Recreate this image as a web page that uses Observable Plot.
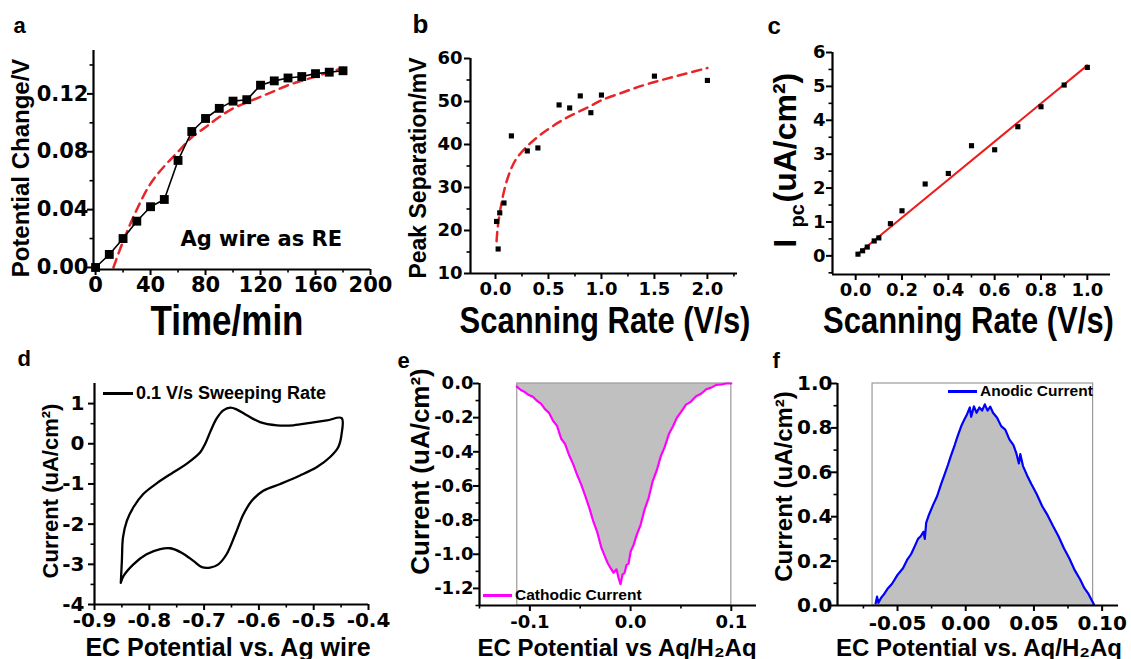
<!DOCTYPE html>
<html><head><meta charset="utf-8">
<script src="https://cdn.jsdelivr.net/npm/d3@7"></script>
<script src="https://cdn.jsdelivr.net/npm/@observablehq/plot@0.6"></script>
<style>
html,body{margin:0;padding:0;background:#fff;}
#fig{position:relative;width:1131px;height:659px;overflow:hidden;background:#fff;}
.legend{position:absolute;display:flex;align-items:center;font-family:"Liberation Sans",Arial,sans-serif;font-weight:bold;white-space:nowrap;color:#000;}
.legend .sw{display:inline-block;}
</style></head><body><div id="fig"></div><script>
// ---------- data ----------
// (a) potential drift of Ag wire
const timeMin = [0,10,20,30,40,50,60,70,80,90,100,110,120,130,140,150,160,170,180];
const potentialChange = [0.000,0.009,0.020,0.032,0.042,0.047,0.074,0.094,0.103,0.110,0.115,0.116,0.126,0.129,0.131,0.132,0.134,0.135,0.136];
const fitTime = [13,20,30,40,50,60,70,80,90,100,110,120,130,140,150,160,170,180];
const fitPotential = [0.000,0.018,0.040,0.058,0.070,0.080,0.090,0.097,0.104,0.110,0.114,0.118,0.122,0.126,0.129,0.132,0.135,0.138];
// (b) peak separation
const scanRateB = [0.01,0.025,0.04,0.08,0.15,0.30,0.40,0.60,0.70,0.80,0.90,1.00,1.50,2.00];
const peakSep = [22.1,15.7,24.1,26.4,42.0,38.5,39.2,49.2,48.5,51.3,47.4,51.5,55.9,54.9];
const fitRateB = [0.01,0.02,0.04,0.07,0.1,0.15,0.2,0.3,0.4,0.5,0.6,0.7,0.8,0.9,1.0,1.2,1.4,1.6,1.8,2.0];
const fitSepB = [17.5,20.5,24,28,31,34.5,36.8,39.6,41.8,43.6,45.2,46.6,47.8,49,50.3,52.1,53.8,55.2,56.5,57.8];
// (c) cathodic peak current
const scanRateC = [0.01,0.03,0.05,0.08,0.10,0.15,0.20,0.30,0.40,0.50,0.60,0.70,0.80,0.90,1.00];
const ipc = [0.05,0.15,0.26,0.44,0.53,0.95,1.33,2.12,2.43,3.25,3.13,3.81,4.40,5.04,5.56];
const fitRateC = [0.01,1.00];
const fitIpc = [0.06,5.62];
// (d) cyclic voltammogram, 0.1 V/s
const cvPotential = [-0.852,-0.850,-0.848,-0.841,-0.829,-0.811,-0.786,-0.756,-0.732,-0.707,-0.698,-0.689,-0.677,-0.665,-0.652,-0.640,-0.622,-0.598,-0.567,-0.537,-0.506,-0.476,-0.449,
  -0.449,-0.455,-0.470,-0.494,-0.525,-0.561,-0.592,-0.613,-0.628,-0.643,-0.659,-0.674,-0.689,-0.704,-0.719,-0.741,-0.762,-0.780,-0.805,-0.829,-0.847,-0.852];
const cvCurrent = [-3.46,-2.90,-2.33,-1.92,-1.58,-1.25,-0.98,-0.71,-0.50,-0.21,0.00,0.29,0.63,0.83,0.90,0.85,0.71,0.54,0.46,0.46,0.52,0.58,0.64,
  0.25,-0.08,-0.33,-0.58,-0.79,-1.00,-1.17,-1.42,-1.75,-2.25,-2.75,-3.00,-3.08,-3.07,-2.92,-2.71,-2.60,-2.62,-2.75,-3.00,-3.29,-3.46];
// (e) cathodic current
const cathPotential = [-0.1130,-0.1090,-0.1050,-0.1010,-0.0970,-0.0930,-0.0890,-0.0850,-0.0810,-0.0770,-0.0730,-0.0690,-0.0650,-0.0610,-0.0570,-0.0530,-0.0490,-0.0450,-0.0410,-0.0370,-0.0330,-0.0290,-0.0260,-0.0230,-0.0200,-0.0170,-0.0140,-0.0120,-0.0100,-0.0080,-0.0060,-0.0040,-0.0020,0.0000,0.0030,0.0060,0.0100,0.0140,0.0180,0.0220,0.0260,0.0300,0.0340,0.0380,0.0420,0.0460,0.0500,0.0550,0.0600,0.0650,0.0700,0.0750,0.0800,0.0850,0.0900,0.0950,0.1000];
const cathCurrent = [-0.018,-0.038,-0.050,-0.068,-0.078,-0.101,-0.118,-0.150,-0.172,-0.218,-0.248,-0.322,-0.355,-0.420,-0.472,-0.536,-0.592,-0.658,-0.728,-0.808,-0.872,-0.962,-1.005,-1.048,-1.080,-1.108,-1.088,-1.138,-1.175,-1.118,-1.110,-1.062,-1.055,-0.985,-0.945,-0.888,-0.826,-0.735,-0.668,-0.570,-0.508,-0.425,-0.370,-0.296,-0.252,-0.200,-0.168,-0.124,-0.106,-0.074,-0.060,-0.034,-0.024,-0.008,-0.006,0.000,0.000];
const cathodicWindow = [-0.1125, 0.1];
// (f) anodic current
const anodPotential = [-0.0660,-0.0650,-0.0640,-0.0620,-0.0600,-0.0570,-0.0540,-0.0500,-0.0460,-0.0430,-0.0400,-0.0370,-0.0350,-0.0330,-0.0310,-0.0300,-0.0290,-0.0270,-0.0240,-0.0210,-0.0180,-0.0160,-0.0130,-0.0110,-0.0080,-0.0060,-0.0030,-0.0010,0.0010,0.0030,0.0040,0.0060,0.0080,0.0100,0.0120,0.0140,0.0160,0.0180,0.0200,0.0230,0.0260,0.0290,0.0320,0.0350,0.0370,0.0390,0.0400,0.0420,0.0450,0.0480,0.0520,0.0560,0.0600,0.0640,0.0680,0.0720,0.0760,0.0800,0.0840,0.0870,0.0900,0.0920,0.0940];
const anodCurrent = [0.010,0.040,0.012,0.035,0.050,0.078,0.098,0.138,0.168,0.205,0.232,0.272,0.300,0.312,0.332,0.300,0.372,0.408,0.452,0.492,0.548,0.582,0.634,0.672,0.724,0.762,0.812,0.838,0.862,0.892,0.850,0.897,0.868,0.892,0.878,0.906,0.878,0.896,0.868,0.846,0.808,0.792,0.748,0.722,0.688,0.640,0.682,0.628,0.586,0.548,0.502,0.448,0.407,0.358,0.312,0.258,0.212,0.158,0.116,0.078,0.052,0.028,0.004];
const anodicWindow = [-0.0683, 0.0934];

// tick values
const aXTicks = [0,40,80,120,160,200], aXMinor = [20,60,100,140,180];
const aYTicks = [0,0.04,0.08,0.12], aYMinor = [0.02,0.06,0.10,0.14];
const bXTicks = [0,0.5,1.0,1.5,2.0], bXMinor = [0.25,0.75,1.25,1.75,2.25];
const bYTicks = [10,20,30,40,50,60], bYMinor = [15,25,35,45,55];
const cXTicks = [0,0.2,0.4,0.6,0.8,1.0], cXMinor = [0.1,0.3,0.5,0.7,0.9];
const cYTicks = [0,1,2,3,4,5,6], cYMinor = [-0.5,0.5,1.5,2.5,3.5,4.5,5.5];
const dXTicks = [-0.9,-0.8,-0.7,-0.6,-0.5,-0.4], dXMinor = [-0.85,-0.75,-0.65,-0.55,-0.45];
const dYTicks = [-4,-3,-2,-1,0,1], dYMinor = [-3.5,-2.5,-1.5,-0.5,0.5];
const eXTicks = [-0.1,0,0.1], eXMinor = [-0.15,-0.05,0.05];
const eYTicks = [-1.2,-1.0,-0.8,-0.6,-0.4,-0.2,0.0], eYMinor = [-1.3,-1.1,-0.9,-0.7,-0.5,-0.3,-0.1];
const fXTicks = [-0.05,0,0.05,0.10], fXMinor = [-0.075,-0.025,0.025,0.075];
const fYTicks = [0,0.2,0.4,0.6,0.8,1.0], fYMinor = [0.1,0.3,0.5,0.7,0.9];

// ---------- helpers ----------
const rows = (xs, ys) => xs.map((x, i) => ({x, y: ys[i]}));
const loc = d3.formatLocale({decimal: ".", thousands: ",", grouping: [3], currency: ["", ""], minus: "-"});
const ARIAL = "'Liberation Sans', Arial, sans-serif";
const fig = document.getElementById("fig");

function txt(s, o) {
  return Plot.text([s], {text: d => d, fontFamily: ARIAL, fontWeight: "bold", fill: "#000", textAnchor: "middle", ...o});
}

function panel(c) {
  const svg = Plot.plot({
    width: c.w, height: c.h,
    marginLeft: c.ml, marginRight: c.mr, marginTop: c.mt, marginBottom: c.mb,
    x: {domain: c.xd, label: null}, y: {domain: c.yd, label: null},
    style: {fontFamily: "'DejaVu Sans', sans-serif", fontWeight: "bold", fontSize: c.fs + "px", color: "#000", background: "none", overflow: "visible"},
    marks: [
      ...c.marks,
      Plot.axisX(c.xMinor, {tickSize: 3.5, strokeWidth: 1.6, tickFormat: () => "", label: null}),
      Plot.axisX(c.xTicks, {tickSize: 6, strokeWidth: 2, tickPadding: c.gx - 6, tickFormat: loc.format(c.xf), label: null}),
      Plot.axisY(c.yMinor, {tickSize: 3.5, strokeWidth: 1.6, tickFormat: () => "", label: null}),
      Plot.axisY(c.yTicks, {tickSize: 6, strokeWidth: 2, tickPadding: c.gy - 6, tickFormat: loc.format(c.yf), label: null}),
      Plot.ruleX([c.xd[0]], {strokeWidth: 2.2}),
      Plot.ruleY([c.yd[0]], {strokeWidth: 2.2}),
      ...c.texts
    ]
  });
  svg.style.position = "absolute";
  svg.style.left = c.left + "px";
  svg.style.top = c.top + "px";
  fig.appendChild(svg);
  // condensed titles: the source squeezes these horizontally
  for (const [s, len] of (c.squeeze || [])) {
    d3.select(svg).selectAll("text").filter(function() { return this.textContent === s; })
      .each(function() {
        const k = len / this.getComputedTextLength();
        const t = this.getAttribute("transform") || "";
        this.setAttribute("transform", (t + ` scale(${k},1)`).trim());
      });
  }
}

function legend(left, cy, color, w, label, fs) {
  const d = document.createElement("div");
  d.className = "legend";
  d.style.left = left + "px";
  d.style.top = (cy - 12) + "px";
  d.style.height = "24px";
  d.style.fontSize = fs + "px";
  const s = document.createElement("span");
  s.className = "sw";
  s.style.width = w + "px"; s.style.height = "3px"; s.style.background = color; s.style.marginRight = "3px";
  d.appendChild(s);
  d.appendChild(document.createTextNode(label));
  fig.appendChild(d);
}

// ---------- (a) ----------
panel({left: 0, top: 0, w: 380, h: 345, ml: 93, mr: 10, mt: 50, mb: 76,
  xd: [-1.5, 200], yd: [-0.0014, 0.15], fs: 21, gx: 8, gy: 5,
  xTicks: aXTicks, xMinor: aXMinor, yTicks: aYTicks, yMinor: aYMinor, xf: "d", yf: ".2f",
  marks: [
    Plot.line(rows(fitTime, fitPotential), {x: "x", y: "y", stroke: "#e8262a", strokeWidth: 2.5, strokeDasharray: "9,6", curve: "catmull-rom"}),
    Plot.line(rows(timeMin, potentialChange), {x: "x", y: "y", stroke: "#000", strokeWidth: 1.6}),
    Plot.dot(rows(timeMin, potentialChange), {x: "x", y: "y", symbol: "square", r: 5, fill: "#000"})
  ],
  texts: [
    txt("Ag wire as RE", {frameAnchor: "top-left", dx: 87, dy: 195, textAnchor: "start", lineAnchor: "bottom", fontSize: 21, fontFamily: "'DejaVu Sans', sans-serif"}),
    txt("Potential Change/V", {frameAnchor: "left", rotate: -90, dx: -65, dy: 8, lineAnchor: "bottom", fontSize: 24}),
    txt("Time/min", {frameAnchor: "bottom", dx: -5, dy: 65, lineAnchor: "bottom", fontSize: 43}),
    txt("a", {frameAnchor: "top-left", dx: -80, dy: -18, textAnchor: "start", lineAnchor: "bottom", fontSize: 22})
  ],
  squeeze: [["Time/min", 153]]
});

// ---------- (b) ----------
panel({left: 380, top: 0, w: 380, h: 345, ml: 90, mr: 23, mt: 58, mb: 72,
  xd: [-0.236, 2.284], yd: [10, 60], fs: 18, gx: 9, gy: 8,
  xTicks: bXTicks, xMinor: bXMinor, yTicks: bYTicks, yMinor: bYMinor, xf: ".1f", yf: "d",
  marks: [
    Plot.line(rows(fitRateB, fitSepB), {x: "x", y: "y", stroke: "#e8262a", strokeWidth: 2.5, strokeDasharray: "9,6", curve: "catmull-rom"}),
    Plot.dot(rows(scanRateB, peakSep), {x: "x", y: "y", symbol: "square", r: 2.9, fill: "#000"})
  ],
  texts: [
    txt("Peak Separation/mV", {frameAnchor: "left", rotate: -90, dx: -45, dy: 2, lineAnchor: "bottom", fontSize: 23}),
    txt("Scanning Rate (V/s)", {frameAnchor: "bottom", dx: 1, dy: 59, lineAnchor: "bottom", fontSize: 37}),
    txt("b", {frameAnchor: "top-left", dx: -58, dy: -26, textAnchor: "start", lineAnchor: "bottom", fontSize: 26})
  ],
  squeeze: [["Scanning Rate (V/s)", 291]]
});

// ---------- (c) ----------
panel({left: 760, top: 0, w: 371, h: 345, ml: 72, mr: 21, mt: 52, mb: 71,
  xd: [-0.1, 1.1], yd: [-0.55, 6], fs: 18, gx: 9, gy: 7,
  xTicks: cXTicks, xMinor: cXMinor, yTicks: cYTicks, yMinor: cYMinor, xf: ".1f", yf: "d",
  marks: [
    Plot.line(rows(fitRateC, fitIpc), {x: "x", y: "y", stroke: "#ee1c1c", strokeWidth: 2}),
    Plot.dot(rows(scanRateC, ipc), {x: "x", y: "y", symbol: "square", r: 2.9, fill: "#000"})
  ],
  texts: [
    txt("I", {frameAnchor: "left", rotate: -90, dx: -37, dy: 84, textAnchor: "start", lineAnchor: "bottom", fontSize: 31}),
    txt("pc", {frameAnchor: "left", rotate: -90, dx: -29, dy: 64, textAnchor: "start", lineAnchor: "bottom", fontSize: 20}),
    txt("(uA/cm²)", {frameAnchor: "left", rotate: -90, dx: -37, dy: 39, textAnchor: "start", lineAnchor: "bottom", fontSize: 32}),
    txt("Scanning Rate (V/s)", {frameAnchor: "bottom", dx: -3, dy: 58, lineAnchor: "bottom", fontSize: 37}),
    txt("c", {frameAnchor: "top-left", dx: -65, dy: -19, textAnchor: "start", lineAnchor: "bottom", fontSize: 24})
  ],
  squeeze: [["Scanning Rate (V/s)", 291]]
});

// ---------- (d) ----------
panel({left: 0, top: 330, w: 380, h: 329, ml: 94, mr: 12, mt: 53, mb: 55,
  xd: [-0.9, -0.4], yd: [-4, 1.5], fs: 20, gx: 8, gy: 10,
  xTicks: dXTicks, xMinor: dXMinor, yTicks: dYTicks, yMinor: dYMinor, xf: ".1f", yf: "d",
  marks: [
    Plot.line(rows(cvPotential, cvCurrent), {x: "x", y: "y", stroke: "#000", strokeWidth: 2.3, curve: "catmull-rom"})
  ],
  texts: [
    txt("Current (uA/cm²)", {frameAnchor: "left", rotate: -90, dx: -37, dy: -3, lineAnchor: "bottom", fontSize: 22}),
    txt("EC Potential vs. Ag wire", {frameAnchor: "bottom", dx: -3.5, dy: 51, lineAnchor: "bottom", fontSize: 25}),
    txt("d", {frameAnchor: "top-left", dx: -77, dy: -18, textAnchor: "start", lineAnchor: "bottom", fontSize: 22})
  ]
});

// ---------- (e) ----------
panel({left: 380, top: 330, w: 380, h: 329, ml: 99, mr: 4, mt: 53, mb: 54,
  xd: [-0.15, 0.125], yd: [-1.3, 0], fs: 18, gx: 10, gy: 6,
  xTicks: eXTicks, xMinor: eXMinor, yTicks: eYTicks, yMinor: eYMinor, xf: ".1f", yf: ".1f",
  marks: [
    Plot.areaY(rows(cathPotential, cathCurrent), {x: "x", y: "y", fill: "#c0c0c0"}),
    Plot.rect([cathodicWindow], {x1: d => d[0], x2: d => d[1], y1: -1.3, y2: 0, fill: "none", stroke: "#9a9a9a", strokeWidth: 1.2}),
    Plot.line(rows(cathPotential, cathCurrent), {x: "x", y: "y", stroke: "#ff00ff", strokeWidth: 2.2})
  ],
  texts: [
    txt("Current (uA/cm²)", {frameAnchor: "left", rotate: -90, dx: -51, dy: -23, lineAnchor: "bottom", fontSize: 26}),
    txt("EC Potential vs Aq/H₂Aq", {frameAnchor: "bottom", dx: -1, dy: 50, lineAnchor: "bottom", fontSize: 24}),
    txt("e", {frameAnchor: "top-left", dx: -82, dy: -16, textAnchor: "start", lineAnchor: "bottom", fontSize: 22})
  ]
});

// ---------- (f) ----------
panel({left: 760, top: 330, w: 371, h: 329, ml: 77, mr: 13, mt: 53, mb: 54,
  xd: [-0.094, 0.112], yd: [0, 1], fs: 20, gx: 10, gy: 5,
  xTicks: fXTicks, xMinor: fXMinor, yTicks: fYTicks, yMinor: fYMinor, xf: ".2f", yf: ".1f",
  marks: [
    Plot.areaY(rows(anodPotential, anodCurrent), {x: "x", y: "y", fill: "#c0c0c0"}),
    Plot.rect([anodicWindow], {x1: d => d[0], x2: d => d[1], y1: 0, y2: 1, fill: "none", stroke: "#9a9a9a", strokeWidth: 1.2}),
    Plot.line(rows(anodPotential, anodCurrent), {x: "x", y: "y", stroke: "#0000ff", strokeWidth: 2.2})
  ],
  texts: [
    txt("Current (uA/cm²)", {frameAnchor: "left", rotate: -90, dx: -46, dy: -8, lineAnchor: "bottom", fontSize: 24}),
    txt("EC Potential vs. Aq/H₂Aq", {frameAnchor: "bottom", dx: 1, dy: 50, lineAnchor: "bottom", fontSize: 24}),
    txt("f", {frameAnchor: "top-left", dx: -65, dy: -16, textAnchor: "start", lineAnchor: "bottom", fontSize: 22})
  ]
});

// ---------- legends ----------
legend(103, 393, "#000", 30, "0.1 V/s Sweeping Rate", 18);
legend(483, 595, "#ff00ff", 29, "Cathodic Current", 15.5);
legend(948, 391, "#0000ff", 29, "Anodic Current", 15.5);
</script></body></html>
